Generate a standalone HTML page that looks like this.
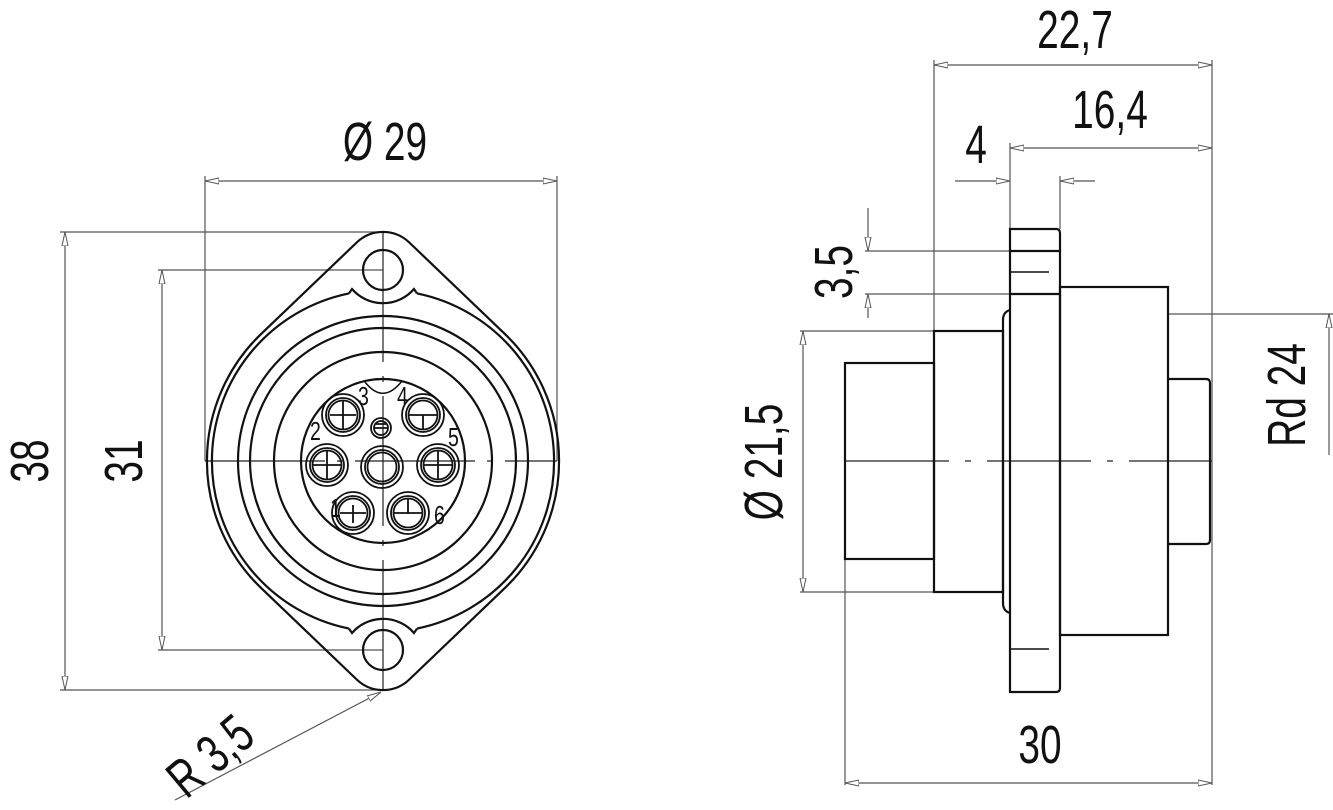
<!DOCTYPE html>
<html><head><meta charset="utf-8"><style>
html,body{margin:0;padding:0;background:#fff;}
svg{display:block;}
text{font-family:"Liberation Sans",sans-serif;font-size:54px;fill:#111;}
</style></head><body>
<svg width="1333" height="810" viewBox="0 0 1333 810" xmlns="http://www.w3.org/2000/svg">
<defs>
<marker id="a" viewBox="0 0 14 8" refX="14" refY="4" markerWidth="14" markerHeight="8" markerUnits="userSpaceOnUse" orient="auto-start-reverse">
<path d="M0,1 L14,4 L0,7 Z" fill="#fff" stroke="#555" stroke-width="1"/>
</marker>
</defs>
<g stroke="#555" stroke-width="1.2" fill="none">
<line x1="205" y1="176" x2="205" y2="461"/><line x1="557" y1="176" x2="557" y2="461"/>
<line x1="205" y1="181" x2="557" y2="181" marker-start="url(#a)" marker-end="url(#a)"/>
<line x1="60" y1="232" x2="383" y2="232"/><line x1="60" y1="690" x2="383" y2="690"/>
<line x1="65" y1="232" x2="65" y2="690" marker-start="url(#a)" marker-end="url(#a)"/>
<line x1="158" y1="270" x2="383" y2="270"/><line x1="158" y1="650" x2="383" y2="650"/>
<line x1="162" y1="270" x2="162" y2="650" marker-start="url(#a)" marker-end="url(#a)"/>
<line x1="175" y1="800" x2="381" y2="692" marker-end="url(#a)"/>
<line x1="934" y1="60" x2="934" y2="331"/><line x1="1212" y1="60" x2="1212" y2="785"/>
<line x1="934" y1="65" x2="1212" y2="65" marker-start="url(#a)" marker-end="url(#a)"/>
<line x1="1010" y1="143" x2="1010" y2="229"/>
<line x1="1010" y1="148" x2="1212" y2="148" marker-start="url(#a)" marker-end="url(#a)"/>
<line x1="1060" y1="176" x2="1060" y2="229"/>
<line x1="955" y1="181" x2="1010" y2="181" marker-end="url(#a)"/>
<line x1="1095" y1="181" x2="1060" y2="181" marker-end="url(#a)"/>
<line x1="865" y1="251" x2="1010" y2="251"/><line x1="865" y1="294" x2="1010" y2="294"/>
<line x1="868" y1="208" x2="868" y2="251" marker-end="url(#a)"/>
<line x1="868" y1="318" x2="868" y2="294" marker-end="url(#a)"/>
<line x1="800" y1="331" x2="934" y2="331"/><line x1="800" y1="592" x2="934" y2="592"/>
<line x1="803" y1="331" x2="803" y2="592" marker-start="url(#a)" marker-end="url(#a)"/>
<line x1="1168" y1="314" x2="1333" y2="314"/>
<line x1="1329" y1="455" x2="1329" y2="314" marker-end="url(#a)"/>
<line x1="845" y1="559" x2="845" y2="785"/>
<line x1="845" y1="783" x2="1212" y2="783" marker-start="url(#a)" marker-end="url(#a)"/>
</g>
<g stroke="#222" stroke-width="1.2" fill="none">
<line x1="383" y1="232" x2="383" y2="690" stroke-dasharray="130,14,6,14"/>
<line x1="205" y1="461" x2="557" y2="461" stroke-dasharray="120,12,6,12"/>
<line x1="845" y1="461" x2="1212" y2="461" stroke-dasharray="104,16,6,16"/>
</g>
<g stroke="#111" stroke-width="2.2" fill="none">
<path d="M356.7,242.5 A38 38 0 0 1 409.3,242.5 L504.7,333.8 A176 176 0 0 1 504.7,588.2 L409.3,679.5 A38 38 0 0 1 356.7,679.5 L261.3,588.2 A176 176 0 0 1 261.3,333.8 Z"/>
<circle cx="383" cy="270" r="20"/><circle cx="383" cy="650" r="20"/>
<path d="M349,293.4 A171 171 0 0 0 349,628.6 M417,628.6 A171 171 0 0 0 417,293.4"/>
<path d="M349,293.4 L352,289 A41 41 0 0 0 414,289 L417,293.4 M349,628.6 L352,633 A41 41 0 0 1 414,633 L417,628.6"/>
<circle cx="383" cy="461" r="145"/>
<circle cx="383" cy="461" r="133"/>
<circle cx="383" cy="461" r="109"/>
<circle cx="383" cy="461" r="82"/>
<path d="M365,382 Q383,405 402,381" stroke-width="1.5"/>
</g>
<g stroke="#111" stroke-width="1.8" fill="none">
<circle cx="382" cy="467" r="21"/><circle cx="382" cy="467" r="17"/><circle cx="382" cy="467" r="14.5"/>
<circle cx="353" cy="513" r="21"/><circle cx="353" cy="513" r="17"/><circle cx="353" cy="513" r="14.5"/>
<circle cx="408" cy="513" r="21"/><circle cx="408" cy="513" r="17"/><circle cx="408" cy="513" r="14.5"/>
<circle cx="327" cy="465" r="21"/><circle cx="327" cy="465" r="17"/><circle cx="327" cy="465" r="14.5"/>
<circle cx="438" cy="465" r="21"/><circle cx="438" cy="465" r="17"/><circle cx="438" cy="465" r="14.5"/>
<circle cx="343" cy="415" r="21"/><circle cx="343" cy="415" r="17"/><circle cx="343" cy="415" r="14.5"/>
<circle cx="423" cy="415" r="21"/><circle cx="423" cy="415" r="17"/><circle cx="423" cy="415" r="14.5"/>
<circle cx="381" cy="428" r="10"/><circle cx="381" cy="428" r="7"/>
<path d="M313,465h28M327,451v28M424,465h28M438,451v28M330,415h26M343,401v28M409,415h28M423,415v14M394,513h28M408,499v14M340,513h26M353,505v18M374,428h14M376,424h10"/>
</g>
<g>
<text transform="translate(358,405) scale(0.75,1)" style="font-size:26px">3</text>
<text transform="translate(397,405) scale(0.75,1)" style="font-size:26px">4</text>
<text transform="translate(310,440) scale(0.75,1)" style="font-size:26px">2</text>
<text transform="translate(448,446) scale(0.75,1)" style="font-size:26px">5</text>
<text transform="translate(330,517) scale(0.75,1)" style="font-size:26px">1</text>
<text transform="translate(434,524) scale(0.75,1)" style="font-size:26px">6</text>
</g>
<g stroke="#111" stroke-width="2.2" fill="none">
<rect x="845" y="363" width="89" height="196"/>
<rect x="934" y="331" width="69" height="261"/>
<path d="M1010,310 Q1003,312 1003,320 L1003,603 Q1003,611 1010,613"/>
<path d="M1010,229 L1056,229 Q1060,229 1060,233 L1060,688 Q1060,692 1056,692 L1010,692 Z"/>
<line x1="1010" y1="251" x2="1060" y2="251"/><line x1="1010" y1="294" x2="1060" y2="294"/>
<line x1="1010" y1="272" x2="1049" y2="272" stroke-width="1.6"/><line x1="1010" y1="649" x2="1049" y2="649" stroke-width="1.6"/>
<rect x="1060" y="287" width="108" height="348"/>
<path d="M1168,379 L1206,379 Q1210,379 1210,383 L1210,540 Q1210,544 1206,544 L1168,544"/>
</g>
<g>
<text transform="translate(385,160) scale(0.72,1)" text-anchor="middle">Ø 29</text>
<text transform="translate(48,461) rotate(-90) scale(0.72,1)" text-anchor="middle">38</text>
<text transform="translate(142,461) rotate(-90) scale(0.72,1)" text-anchor="middle">31</text>
<text transform="translate(222,770) rotate(-40) scale(0.72,1)" text-anchor="middle">R 3,5</text>
<text transform="translate(1075,48) scale(0.72,1)" text-anchor="middle">22,7</text>
<text transform="translate(1110,128) scale(0.72,1)" text-anchor="middle">16,4</text>
<text transform="translate(976,163) scale(0.72,1)" text-anchor="middle">4</text>
<text transform="translate(852,272) rotate(-90) scale(0.72,1)" text-anchor="middle">3,5</text>
<text transform="translate(782,462) rotate(-90) scale(0.72,1)" text-anchor="middle">Ø 21,5</text>
<text transform="translate(1305,395) rotate(-90) scale(0.72,1)" text-anchor="middle">Rd 24</text>
<text transform="translate(1040,763) scale(0.72,1)" text-anchor="middle">30</text>
</g>
</svg>
</body></html>
